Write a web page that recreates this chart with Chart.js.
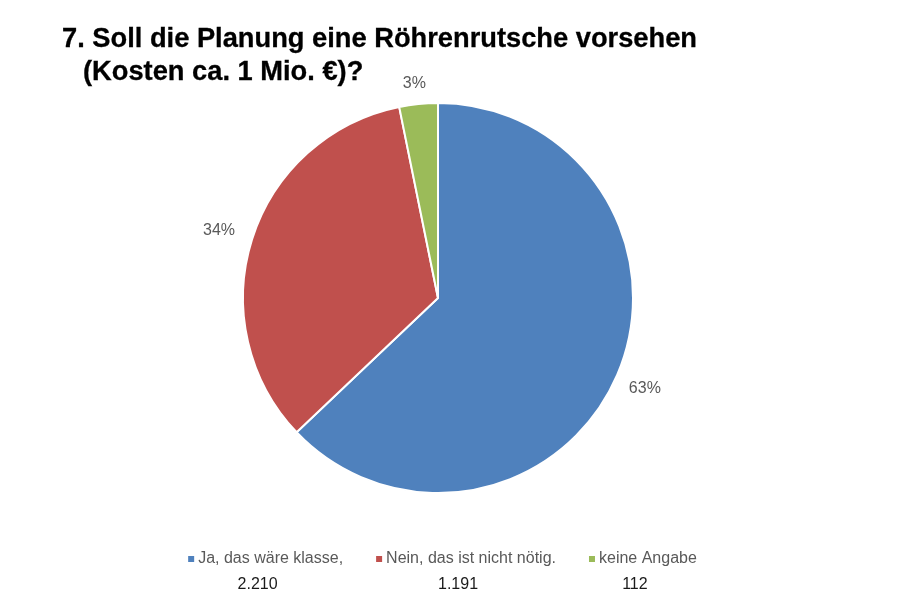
<!DOCTYPE html>
<html><head><meta charset="utf-8">
<script src="https://cdn.jsdelivr.net/npm/chart.js@4.4.1/dist/chart.umd.min.js"></script>
<style>
html,body{margin:0;padding:0;background:#fff;}
#wrap{position:relative;width:907px;height:600px;overflow:hidden;}
#title{position:absolute;left:62px;top:22px;font-family:"Liberation Sans",Arial,sans-serif;font-weight:bold;font-size:27px;line-height:33px;color:#000;transform-origin:0 0;white-space:nowrap;-webkit-text-stroke:0.3px #000;}
#t1{display:inline-block;}
canvas{position:absolute;left:0;top:0;}
</style></head>
<body><div id="wrap">
<canvas id="c" width="907" height="600"></canvas>
<div id="title"><div><span id="t1">7. Soll die Planung eine Röhrenrutsche vorsehen</span></div><div id="l2">(Kosten ca. 1 Mio. €)?</div></div>
</div>
<script>
const categories = ["Ja, das wäre klasse,", "Nein, das ist nicht nötig.", "keine Angabe"];
const countLabels = ["2.210", "1.191", "112"];
const values = [2210, 1191, 112];
const percentLabels = ["63%", "34%", "3%"];
const colors = ["#4F81BD", "#C0504D", "#9BBB59"];

(function fitTitle(){
  const t1 = document.getElementById('t1');
  const w = t1.getBoundingClientRect().width;
  const k = 635 / w;
  document.getElementById('l2').style.paddingLeft = (21 / k) + 'px';
  document.getElementById('title').style.transform = 'scaleX(' + k + ')';
})();

const outerLabels = {
  id: 'outerLabels',
  afterDatasetsDraw(chart) {
    const ctx = chart.ctx;
    const meta = chart.getDatasetMeta(0);
    ctx.save();
    ctx.font = '16px "Liberation Sans", Arial, sans-serif';
    ctx.fillStyle = '#595959';
    ctx.textAlign = 'center';
    ctx.textBaseline = 'middle';
    meta.data.forEach((arc, i) => {
      const p = arc.getProps(['x','y','startAngle','endAngle','outerRadius'], true);
      const mid = (p.startAngle + p.endAngle) / 2;
      const w = ctx.measureText(percentLabels[i]).width;
      const h = 8;
      const c = Math.cos(mid), s = Math.sin(mid);
      const off = 16 + Math.abs(c) * w / 2 + Math.abs(s) * h / 2;
      const r = p.outerRadius + off;
      ctx.fillText(percentLabels[i], p.x + c * r - 2, p.y + s * r + 1);
    });
    ctx.restore();
  }
};

const bottomLegend = {
  id: 'bottomLegend',
  afterDraw(chart) {
    const ctx = chart.ctx;
    ctx.save();
    ctx.font = '16px "Liberation Sans", Arial, sans-serif';
    const box = 6, gapBox = 4, gapItem = 33;
    const widths = categories.map(t => ctx.measureText(t).width);
    const total = widths.reduce((a, w) => a + box + gapBox + w, 0) + gapItem * (categories.length - 1);
    let x = 442.5 - total / 2;
    const y1 = 559, y2 = 585;
    ctx.textBaseline = 'middle';
    categories.forEach((t, i) => {
      ctx.fillStyle = colors[i];
      ctx.fillRect(x, y1 - box / 2, box, box);
      const tx = x + box + gapBox;
      ctx.fillStyle = '#595959';
      ctx.textAlign = 'left';
      ctx.fillText(t, tx, y1);
      ctx.fillStyle = '#1a1a1a';
      ctx.textAlign = 'center';
      ctx.fillText(countLabels[i], tx + widths[i] / 2 - 13, y2);
      x = tx + widths[i] + gapItem;
    });
    ctx.restore();
  }
};

new Chart(document.getElementById('c'), {
  type: 'pie',
  data: {
    labels: categories,
    datasets: [{
      data: values,
      backgroundColor: colors,
      borderColor: '#ffffff',
      borderWidth: 2
    }]
  },
  options: {
    responsive: false,
    animation: false,
    radius: 195,
    layout: { padding: { left: 200, right: 231, top: 100, bottom: 104 } },
    plugins: { legend: { display: false }, tooltip: { enabled: false }, title: { display: false } }
  },
  plugins: [outerLabels, bottomLegend]
});
</script>
</body></html>
